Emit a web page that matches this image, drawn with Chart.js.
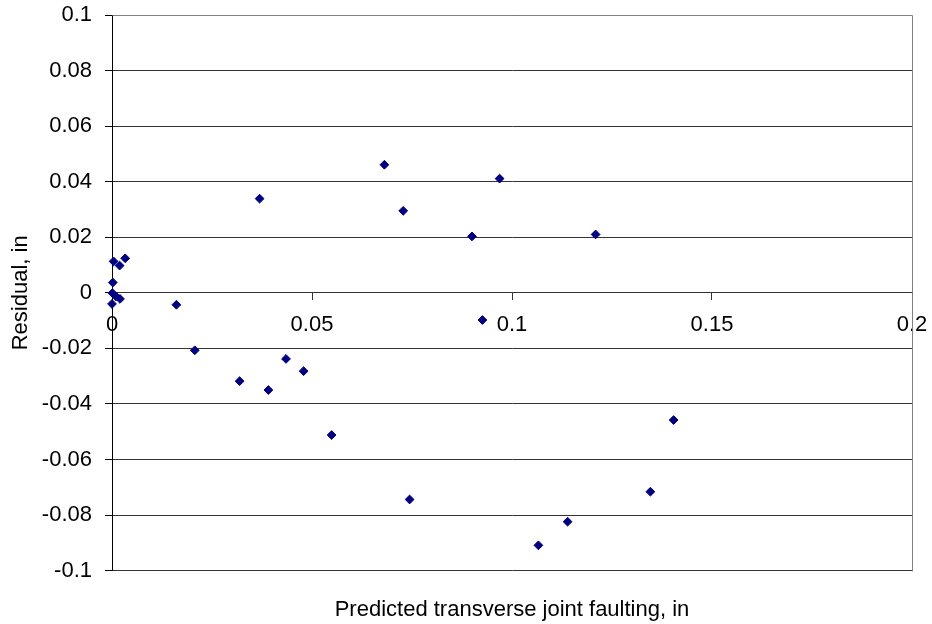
<!DOCTYPE html>
<html>
<head>
<meta charset="utf-8">
<script src="https://cdn.jsdelivr.net/npm/chart.js@4"></script>
<style>
  html, body { margin: 0; padding: 0; background: #fff; }
  canvas { display: block; }
</style>
</head>
<body>
<canvas id="chart" width="932" height="624"></canvas>
<script>
// ---- data ----
const predicted = [
    0.0000, 0.0001, 0.0002, 0.0004, 0.0010, 0.0019, 0.0020, 0.0033, 0.0161,
    0.0207, 0.0319, 0.0369, 0.0391, 0.0435, 0.0479, 0.0549, 0.0681, 0.0728,
    0.0744, 0.0900, 0.0926, 0.0969, 0.1066, 0.1139, 0.1209, 0.1346, 0.1404
];
const residual = [
    -0.0040, -0.0001, 0.0037, 0.0113, -0.0013, 0.0098, -0.0022, 0.0124, -0.0043,
    -0.0207, -0.0318, 0.0339, -0.0350, -0.0238, -0.0282, -0.0512, 0.0461, 0.0295,
    -0.0744, 0.0203, -0.0098, 0.0411, -0.0909, -0.0824, 0.0210, -0.0716, -0.0458
];
const xTicks = [0, 0.05, 0.1, 0.15, 0.2];
const yTicks = [-0.1, -0.08, -0.06, -0.04, -0.02, 0, 0.02, 0.04, 0.06, 0.08, 0.1];

const xTitle = 'Predicted transverse joint faulting, in';
const yTitle = 'Residual, in';

Chart.defaults.font.family = '"Liberation Sans", Arial, sans-serif';
Chart.defaults.font.size = 22;
Chart.defaults.color = '#000';

// gray frame on top and right of the plot area (left is the y axis)
const plotFrame = {
    id: 'plotFrame',
    beforeDatasetsDraw(chart) {
        const { ctx, chartArea: a } = chart;
        ctx.save();
        ctx.strokeStyle = '#808080';
        ctx.lineWidth = 1;
        ctx.beginPath();
        ctx.moveTo(Math.round(a.left) + 0.5, Math.round(a.top) + 0.5);
        ctx.lineTo(Math.round(a.right) + 0.5, Math.round(a.top) + 0.5);
        ctx.lineTo(Math.round(a.right) + 0.5, Math.round(a.bottom) + 0.5);
        ctx.stroke();
        ctx.restore();
    }
};

const fmt = v => String(+Number(v).toFixed(4));

new Chart(document.getElementById('chart'), {
    type: 'scatter',
    data: {
        datasets: [{
            data: predicted.map((x, i) => ({ x, y: residual[i] })),
            pointStyle: 'rectRot',
            pointRadius: 4.4,
            pointBorderWidth: 1,
            backgroundColor: '#000080',
            borderColor: '#000080',
            clip: false
        }]
    },
    options: {
        responsive: false,
        animation: false,
        layout: { padding: { left: 0, right: 20, top: 15, bottom: 0 } },
        plugins: {
            legend: { display: false },
            tooltip: { enabled: false },
            title: {
                display: true,
                position: 'bottom',
                fullSize: false,
                text: xTitle,
                font: { size: 22, weight: 'normal' },
                color: '#000',
                padding: { top: 26, bottom: 1 }
            }
        },
        scales: {
            x: {
                type: 'linear',
                position: { y: 0 },
                min: 0,
                max: 0.2,
                afterBuildTicks: s => { s.ticks = xTicks.map(v => ({ value: v })); },
                afterFit: s => { s.height = 0; s.paddingLeft = 0; s.paddingRight = 0; },
                ticks: { callback: fmt, padding: 12, maxRotation: 0, autoSkip: false },
                grid: { drawOnChartArea: false, drawTicks: true, tickLength: 7, tickColor: '#333' },
                border: { display: true, color: '#333', width: 1 }
            },
            y: {
                type: 'linear',
                min: -0.1,
                max: 0.1,
                afterBuildTicks: s => { s.ticks = yTicks.map(v => ({ value: v })); },
                afterFit: s => { s.width = 112; s.paddingTop = 0; s.paddingBottom = 0; },
                ticks: { callback: fmt, padding: 13, autoSkip: false },
                grid: { color: '#333', lineWidth: 1, tickLength: 7, tickColor: '#000' },
                border: { display: true, color: '#000', width: 1 },
                title: {
                    display: true,
                    text: yTitle,
                    font: { size: 22 },
                    padding: { top: 8, bottom: 0 }
                }
            }
        }
    },
    plugins: [plotFrame]
});
</script>
</body>
</html>
